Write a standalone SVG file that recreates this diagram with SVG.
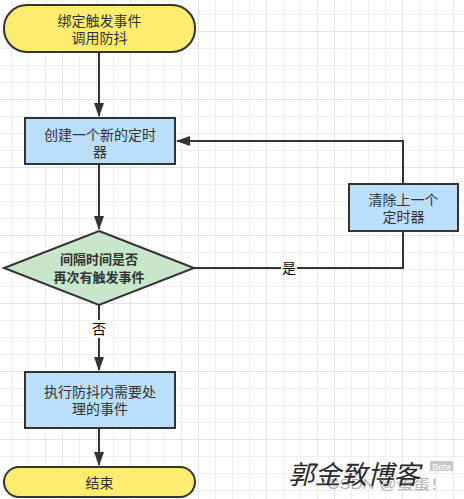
<svg xmlns="http://www.w3.org/2000/svg" width="464" height="499" viewBox="0 0 464 499">
<defs>
<pattern id="minor" x="11" y="14" width="17" height="17" patternUnits="userSpaceOnUse">
<path d="M0 0.5H17M0.5 0V17" stroke="#eeeeee" stroke-width="1" fill="none"/>
</pattern>
<pattern id="major" x="62" y="31" width="68" height="68" patternUnits="userSpaceOnUse">
<path d="M0 0.5H68M0.5 0V68" stroke="#e2e2e2" stroke-width="1" fill="none"/>
</pattern>
<marker id="arrow" markerWidth="14" markerHeight="10" refX="13" refY="5" orient="auto" markerUnits="userSpaceOnUse">
<path d="M0,0 L14,5 L0,10 z" fill="#333333"/>
</marker>
<style>
.t{font-family:"Liberation Sans","Noto Sans CJK SC",sans-serif;font-size:14px;fill:#333333;text-anchor:middle}
.tb{font-weight:bold;font-size:13px}
.term{fill:#fdec6f;stroke:#333333;stroke-width:2}
.proc{fill:#bbdefb;stroke:#333333;stroke-width:2}
.dec{fill:#c8e6c9;stroke:#333333;stroke-width:2}
.edge{fill:none;stroke:#333333;stroke-width:2}
.lbl{font-family:"Liberation Sans","Noto Sans CJK SC",sans-serif;font-size:14px;fill:#000000;text-anchor:middle}
</style>
</defs>
<rect width="464" height="499" fill="#ffffff"/>
<rect width="464" height="499" fill="url(#minor)"/>
<rect width="464" height="499" fill="url(#major)"/>

<g id="connectors">
<path class="edge" d="M99 52V116" marker-end="url(#arrow)"/>
<path class="edge" d="M99 164V229" marker-end="url(#arrow)"/>
<path class="edge" d="M99 305V370" marker-end="url(#arrow)"/>
<path class="edge" d="M99 428V465" marker-end="url(#arrow)"/>
<path class="edge" d="M194 268H403V231"/>
<path class="edge" d="M403 184V141H177" marker-end="url(#arrow)"/>
<rect x="281" y="259" width="16" height="18" fill="#ffffff"/>
<text class="lbl" x="289" y="273">是</text>
<rect x="91" y="320" width="16" height="18" fill="#ffffff"/>
<text class="lbl" x="99" y="334">否</text>
</g>

<g id="start">
<rect class="term" x="4" y="5" width="191" height="47" rx="23" ry="23"/>
<text class="t" x="99.5" y="25.5">绑定触发事件<tspan x="99.5" dy="17">调用防抖</tspan></text>
</g>

<g id="create">
<rect class="proc" x="25" y="118" width="150" height="46"/>
<text class="t" x="100" y="139.5">创建一个新的定时<tspan x="100" dy="17">器</tspan></text>
</g>

<g id="clear">
<rect class="proc" x="349" y="184" width="109" height="47"/>
<text class="t" x="403.5" y="204.5">清除上一个<tspan x="403.5" dy="17">定时器</tspan></text>
</g>

<g id="decision">
<polygon class="dec" points="99,231 194,268 99,305 4,268"/>
<text class="t tb" x="99" y="264.2">间隔时间是否<tspan x="99" dy="17.5">再次有触发事件</tspan></text>
</g>

<g id="execute">
<rect class="proc" x="25" y="372" width="150" height="56"/>
<text class="t" x="100" y="397">执行防抖内需要处<tspan x="100" dy="17">理的事件</tspan></text>
</g>

<g id="end">
<rect class="term" x="4" y="467" width="191" height="30" rx="15" ry="15"/>
<text class="t" x="99.5" y="488">结束</text>
</g>

<g id="watermark">
<text x="327" y="489" font-family="Liberation Sans,Noto Sans CJK SC,sans-serif" font-size="14" fill="#a0a0a0" opacity="0.8" textLength="120" lengthAdjust="spacingAndGlyphs">CSDN @蛋蛋！</text>
<rect x="430" y="461" width="23" height="10" fill="#c8c8c8"/>
<text x="441.5" y="469.5" font-family="Liberation Sans,sans-serif" font-size="9" fill="#ffffff" text-anchor="middle">Beta</text>
<text x="288" y="484" font-family="Noto Sans CJK SC,sans-serif" font-size="26" font-style="italic" fill="#2a2a2a" textLength="132" lengthAdjust="spacingAndGlyphs">郭金致博客</text>
</g>
</svg>
